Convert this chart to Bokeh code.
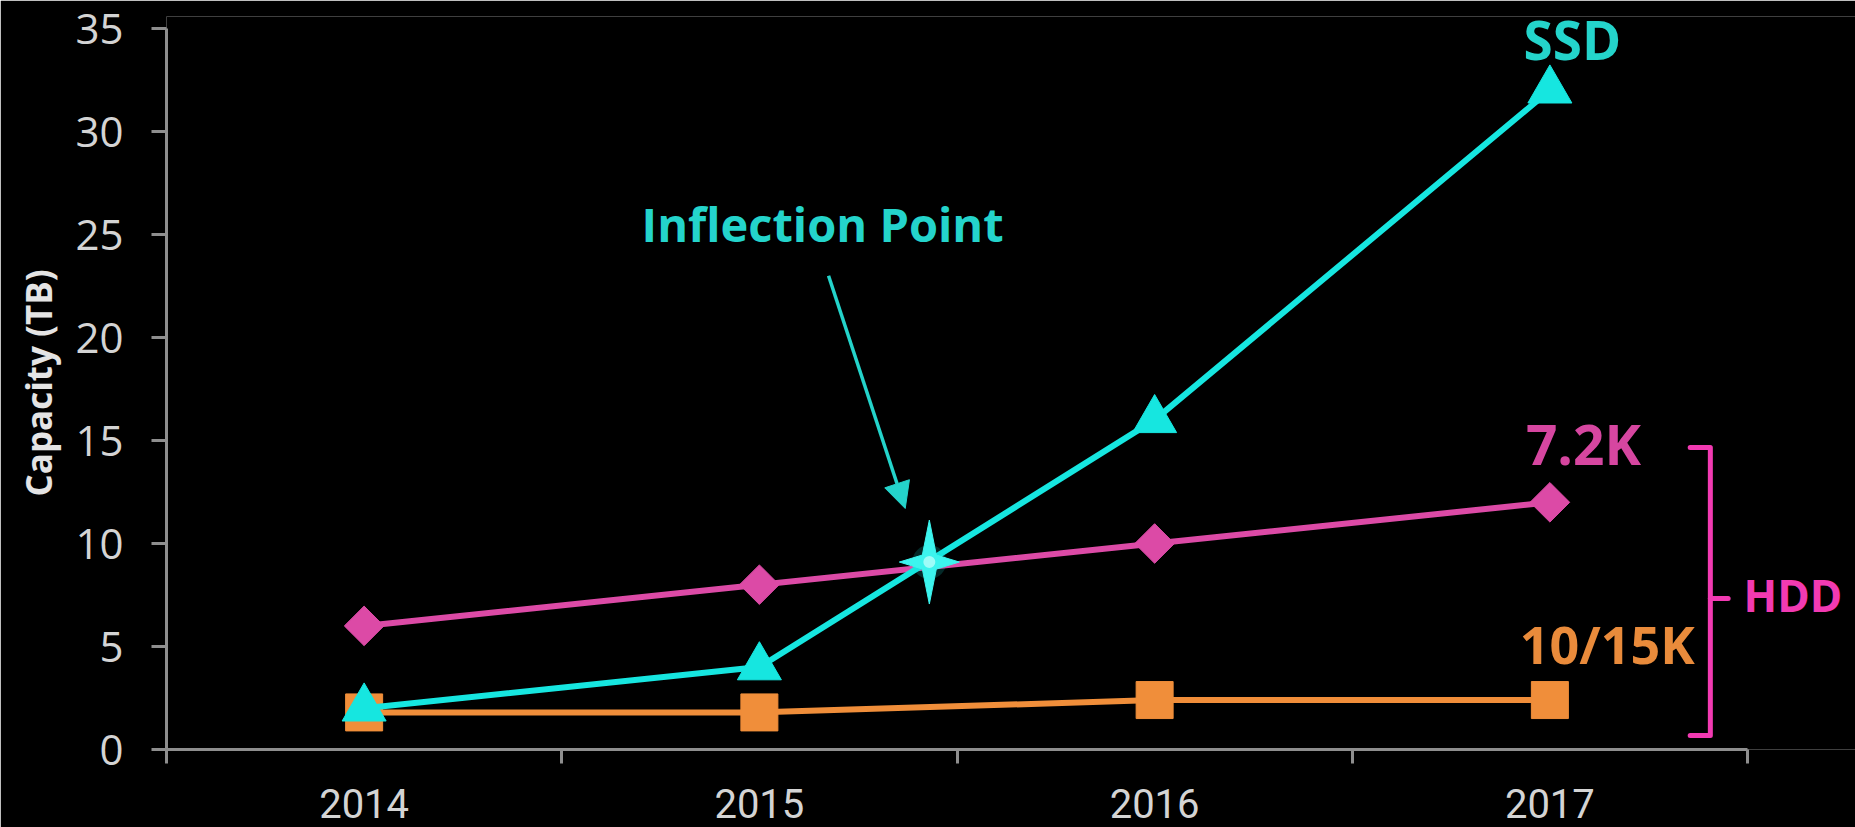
from bokeh.plotting import figure
from bokeh.models import Range1d, FixedTicker, Label, Arrow, NormalHead
from bokeh.embed import file_html
from bokeh.resources import INLINE

# ---- data -------------------------------------------------------------
years = ["2014", "2015", "2016", "2017"]
ssd_tb = [2, 4, 16, 32]
hdd_72k_tb = [6, 8, 10, 12]
hdd_1015k_tb = [1.8, 1.8, 2.4, 2.4]
y_ticks = [0, 5, 10, 15, 20, 25, 30, 35]

# where SSD overtakes 7.2K drives: share of the 2015 -> 2016 step, and TB
inflection_step = 0.43
inflection_tb = 9.1

# ---- styling ----------------------------------------------------------
BG = "#000000"
AXIS = "#8e8e8e"
TICK_TEXT = "#d4d4d4"
CYAN = "#16E6E0"
CYAN_TEXT = "#24D4CB"
MAGENTA = "#DC4AA6"
MAGENTA_TEXT = "#D646A0"
ORANGE = "#F08E3A"
ORANGE_TEXT = "#E98B3B"
PINK = "#F23AB2"

W, H = 1855, 827
LEFT, TOP, BOTTOM = 166, 16, 78
AXIS_W = 1581                      # pixel length of the year axis
AXIS_H = 721                       # pixel length of the capacity axis
FRAME_W = W - LEFT
FRAME_H = H - TOP - BOTTOM

x_pos = [i + 0.5 for i in range(len(years))]
x_max = len(years)
y_max = y_ticks[-1]
# extra room on the right for the HDD note and above for the SSD label
x_end = x_max * FRAME_W / AXIS_W
y_end = y_max * FRAME_H / AXIS_H

p = figure(width=W, height=H, output_backend="svg", toolbar_location=None,
           x_range=Range1d(0, x_end), y_range=Range1d(0, y_end),
           background_fill_color=BG, border_fill_color=BG,
           min_border_left=LEFT, min_border_right=0,
           min_border_top=TOP, min_border_bottom=BOTTOM)
p.outline_line_color = None
p.grid.grid_line_color = None

# x axis: year labels centred in each band, ticks on band edges
p.xaxis.bounds = (0, x_max)
p.xaxis.ticker = FixedTicker(ticks=x_pos, minor_ticks=list(range(x_max + 1)))
p.xaxis.major_label_overrides = {x: y for x, y in zip(x_pos, years)}
p.xaxis.major_tick_line_color = None
p.xaxis.major_tick_out = 0
p.xaxis.major_tick_in = 0
p.xaxis.minor_tick_out = 14
p.xaxis.minor_tick_in = 0
p.xaxis.minor_tick_line_color = AXIS
p.xaxis.minor_tick_line_width = 3
p.xaxis.axis_line_color = AXIS
p.xaxis.axis_line_width = 3
p.xaxis.major_label_text_font = "Roboto"
p.xaxis.major_label_text_font_size = "40px"
p.xaxis.major_label_text_color = TICK_TEXT
p.xaxis.major_label_standoff = 25

# y axis
p.yaxis.bounds = (0, y_max)
p.yaxis.ticker = FixedTicker(ticks=y_ticks)
p.yaxis.minor_tick_line_color = None
p.yaxis.major_tick_out = 15
p.yaxis.major_tick_in = 0
p.yaxis.major_tick_line_color = AXIS
p.yaxis.major_tick_line_width = 3
p.yaxis.axis_line_color = AXIS
p.yaxis.axis_line_width = 3
p.yaxis.major_label_text_font = "Open Sans"
p.yaxis.major_label_text_font_size = "42px"
p.yaxis.major_label_text_color = TICK_TEXT
p.yaxis.major_label_standoff = 28
p.yaxis.axis_label = "Capacity (TB)"
p.yaxis.axis_label_text_font = "Open Sans"
p.yaxis.axis_label_text_font_style = "bold"
p.yaxis.axis_label_text_font_size = "35px"
p.yaxis.axis_label_text_color = "#e4e4e4"
p.yaxis.axis_label_standoff = 10

# ---- series -------------------------------------------------------------
p.line(x_pos, hdd_1015k_tb, line_color=ORANGE, line_width=6)
p.scatter(x_pos, hdd_1015k_tb, marker="square", size=37,
          fill_color=ORANGE, line_color=ORANGE)

p.line(x_pos, hdd_72k_tb, line_color=MAGENTA, line_width=6)
p.scatter(x_pos, hdd_72k_tb, marker="square", size=28, angle=0.785398,
          fill_color=MAGENTA, line_color=MAGENTA)

p.line(x_pos, ssd_tb, line_color=CYAN, line_width=6)
p.scatter(x_pos, ssd_tb, marker="triangle", size=44,
          fill_color=CYAN, line_color=CYAN)

# four-pointed star on the crossing point
sx = x_pos[1] + inflection_step
sy = inflection_tb
ux = x_end / FRAME_W      # data units per pixel
uy = y_end / FRAME_H
arm_v, arm_h, waist = 42, 30, 7
star_px = [(0, arm_v), (waist, waist), (arm_h, 0), (waist, -waist),
           (0, -arm_v), (-waist, -waist), (-arm_h, 0), (-waist, waist)]
p.scatter([sx], [sy], marker="circle", size=34, fill_color=CYAN,
          line_color=None, fill_alpha=0.18)
p.patch([sx + dx * ux for dx, _ in star_px], [sy + dy * uy for _, dy in star_px],
        fill_color="#3CF4EE", line_color="#3CF4EE", line_width=1)
p.scatter([sx], [sy], marker="circle", size=12, fill_color="#C8FFFC",
          line_color=None, fill_alpha=0.7)

# ---- annotations ----------------------------------------------------------
p.add_layout(Arrow(end=NormalHead(size=26, fill_color=CYAN_TEXT, line_color=CYAN_TEXT),
                   x_start=1.675, y_start=23.0, x_end=1.869, y_end=11.7,
                   line_color=CYAN_TEXT, line_width=3.5))

def add_text(text, x, y, color, size, align="center"):
    p.add_layout(Label(x=x, y=y, text=text, text_color=color,
                       text_font="Open Sans", text_font_style="bold",
                       text_font_size=size, text_align=align,
                       text_baseline="alphabetic"))

add_text("Inflection Point", 1.66, 25.53, CYAN_TEXT, "47px")
add_text("SSD", 3.557, 34.47, CYAN_TEXT, "53px")
add_text("7.2K", 3.585, 14.86, MAGENTA_TEXT, "55px")
add_text("10/15K", 3.645, 5.14, ORANGE_TEXT, "52px")

# bracket grouping the two HDD series
bx, bx_hook, bx_tip = 3.906, 3.855, 3.951
b_top, b_mid, b_bot = 14.66, 7.33, 0.68
p.multi_line([[bx_hook, bx, bx, bx_hook], [bx, bx_tip]],
             [[b_top, b_top, b_bot, b_bot], [b_mid, b_mid]],
             line_color=PINK, line_width=5, line_join="round", line_cap="round")
add_text("HDD", 4.115, 7.5, PINK, "44px")

open("out.html", "w").write(file_html(p, INLINE))
